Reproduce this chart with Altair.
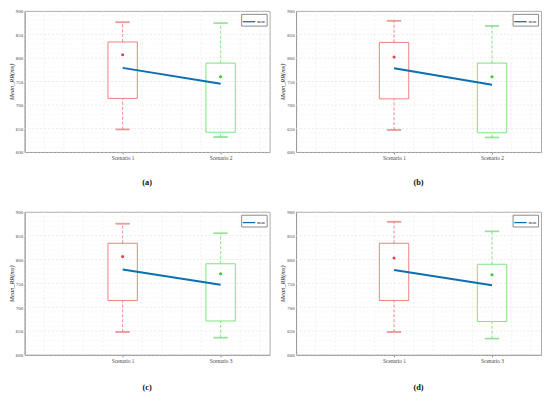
import altair as alt
import pandas as pd

# ---- data ----
CAPTIONS = ["(a)", "(b)", "(c)", "(d)"]
SCENARIOS = [["Scenario 1", "Scenario 2"], ["Scenario 1", "Scenario 2"],
             ["Scenario 1", "Scenario 3"], ["Scenario 1", "Scenario 3"]]
POSITIONS = [1, 2]
GROUPS = ["first", "second"]
WHISK_LO = [[648, 632], [647, 631], [648, 636], [648, 634]]
Q1 = [[714, 642], [713, 641], [714, 671], [714, 670]]
Q3 = [[834, 789], [833, 789], [834, 791], [834, 790]]
WHISK_HI = [[876, 874], [879, 868], [875, 855], [879, 859]]
MARKER = [[807, 760], [802, 760], [806, 770], [803, 768]]
MEAN_LINE = [[779, 745], [778, 743], [779, 747], [778, 746]]
Y_LABELS = [600, 650, 700, 750, 800, 850, 900]
Y_MINOR = [610, 620, 630, 640, 660, 670, 680, 690, 710, 720, 730, 740, 760, 770,
           780, 790, 810, 820, 830, 840, 860, 870, 880, 890]
X_GRID = [0.2, 0.4, 0.6, 0.8, 1.0, 1.2, 1.4, 1.6, 1.8, 2.0, 2.2, 2.4]
BOX_COLORS = ["#ee6f6f", "#6fe06f"]
MARK_COLORS = ["#d84a4a", "#3cc83c"]
LINE_COLOR = "#0b6fb0"
FONT = "Liberation Serif"

XS = alt.Scale(domain=[0, 2.5], nice=False, zero=False, padding=0)
YS = alt.Scale(domain=[600, 900], nice=False, zero=False, padding=0)


def panel(i, h, cap_offset):
    df = pd.DataFrame({
        "pos": POSITIONS,
        "g": GROUPS,
        "lo": WHISK_LO[i],
        "q1": Q1[i],
        "q3": Q3[i],
        "hi": WHISK_HI[i],
        "marker": MARKER[i],
        "mean": MEAN_LINE[i],
        "series": ["mean", "mean"],
    })
    s = SCENARIOS[i]
    xaxis = alt.Axis(
        values=POSITIONS,
        labelExpr=f"datum.value == 1 ? '{s[0]}' : '{s[1]}'",
        labelOverlap=False, title=None, grid=False,
        labelFontSize=5.5, labelFont=FONT, labelColor="#444",
        labelPadding=2, tickSize=2, tickColor="#888", domainColor="#999",
    )
    yaxis = alt.Axis(
        values=Y_LABELS, labelOverlap=False,
        title="Mean_RR(ms)", titleFont=FONT, titleFontStyle="italic", titleFontWeight="normal",
        titleFontSize=6.5, titleColor="#222", titlePadding=1,
        grid=False, ticks=False, labelFontSize=5, labelFont=FONT, labelColor="#444",
        labelPadding=2, domainColor="#999",
    )

    def X(field):
        return alt.X(field, type="quantitative", scale=XS, axis=xaxis)

    def Y(field):
        return alt.Y(field, type="quantitative", scale=YS, axis=yaxis)

    ymin = alt.Chart(pd.DataFrame({"v": Y_MINOR})).mark_rule(
        color="#f1f1f1", strokeWidth=0.6, strokeDash=[1, 1]).encode(y=Y("v"))
    ymaj = alt.Chart(pd.DataFrame({"v": Y_LABELS})).mark_rule(
        color="#e2e2e2", strokeWidth=0.7, strokeDash=[2, 2]).encode(y=Y("v"))
    xgrid = alt.Chart(pd.DataFrame({"v": X_GRID})).mark_rule(
        color="#ececec", strokeWidth=0.7, strokeDash=[2, 2]).encode(x=X("v"))

    stroke = alt.Stroke("g:N", scale=alt.Scale(domain=GROUPS, range=BOX_COLORS), legend=None)
    base = alt.Chart(df)
    whisk_lo = base.mark_rule(strokeDash=[3, 2], strokeWidth=0.8).encode(
        x=X("pos"), y=Y("lo"), y2="q1:Q", stroke=stroke)
    whisk_hi = base.mark_rule(strokeDash=[3, 2], strokeWidth=0.8).encode(
        x=X("pos"), y=Y("q3"), y2="hi:Q", stroke=stroke)
    cap_lo = base.mark_tick(orient="horizontal", size=14, thickness=0.8).encode(
        x=X("pos"), y=Y("lo"), stroke=stroke)
    cap_hi = base.mark_tick(orient="horizontal", size=14, thickness=0.8).encode(
        x=X("pos"), y=Y("hi"), stroke=stroke)
    box = base.mark_bar(size=30, fillOpacity=0, strokeWidth=0.9).encode(
        x=X("pos"), y=Y("q1"), y2="q3:Q", stroke=stroke)
    pts = base.mark_point(filled=True, size=10, opacity=1).encode(
        x=X("pos"), y=Y("marker"),
        fill=alt.Fill("g:N", scale=alt.Scale(domain=GROUPS, range=MARK_COLORS), legend=None))
    line = base.mark_line(strokeWidth=2).encode(
        x=X("pos"), y=Y("mean"),
        color=alt.Color("series:N", scale=alt.Scale(domain=["mean"], range=[LINE_COLOR]),
                        legend=alt.Legend(orient="top-right", title=None, labelFontSize=3.5,
                                          labelFont=FONT, symbolType="stroke", symbolSize=160,
                                          symbolStrokeWidth=1.3, strokeColor="#888",
                                          fillColor="white", padding=1, offset=3,
                                          labelOffset=1.5)))
    return alt.layer(ymin, ymaj, xgrid, whisk_lo, whisk_hi, cap_lo, cap_hi, box, pts, line).properties(
        width=250, height=h,
        title=alt.TitleParams(text=CAPTIONS[i], orient="bottom", fontSize=8.5, fontWeight="bold",
                              font=FONT, color="#111", offset=cap_offset))


def row(a, b):
    return alt.hconcat(a, b, spacing=9).resolve_scale(
        stroke="independent", fill="independent", color="independent").resolve_legend(
        color="independent")


row1 = row(panel(0, 144, 17), panel(1, 144, 17))
row2 = row(panel(2, 146, 19), panel(3, 146, 19))
chart = alt.vconcat(row1, row2, spacing=22).properties(
    padding={"left": 0, "top": -4, "right": 0, "bottom": 0}).configure_view(
    stroke="#aaa").resolve_scale(stroke="independent", fill="independent",
                                 color="independent").resolve_legend(color="independent")

chart.save("out.html", embed_options={"renderer": "svg", "actions": False})
